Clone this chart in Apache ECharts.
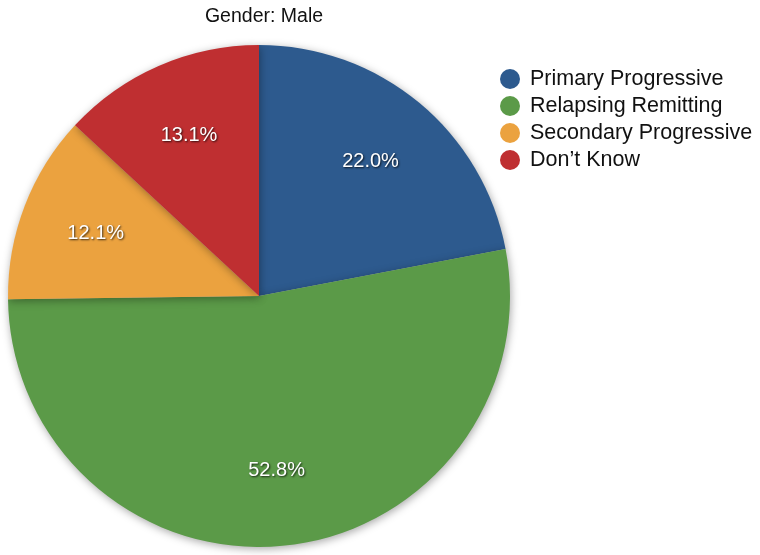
<!DOCTYPE html>
<html>
<head>
<meta charset="utf-8">
<script src="https://cdn.jsdelivr.net/npm/echarts@6/dist/echarts.min.js"></script>
<style>
html,body{margin:0;padding:0;background:#fff;}
#chart{width:760px;height:555px;}
</style>
</head>
<body>
<div id="chart"></div>
<script>
const categories = ["Primary Progressive", "Relapsing Remitting", "Secondary Progressive", "Don\u2019t Know"];
const values = [22.0, 52.8, 12.1, 13.1];
const colors = ["#2d5a8e", "#5b9a48", "#eba23f", "#bf2f31"];
const titleText = "Gender: Male";

const sliceData = categories.map((c, i) => ({ name: c, value: values[i], itemStyle: { color: colors[i] } }));
const labelData = categories.map((c, i) => ({ name: c, value: values[i] }));

const chart = echarts.init(document.getElementById('chart'), null, { renderer: 'canvas' });
chart.setOption({
  animation: false,
  title: {
    text: titleText,
    left: 259, top: 2, textAlign: 'center',
    textStyle: { fontFamily: 'Liberation Sans, Arial, sans-serif', fontSize: 19.5, fontWeight: 'normal', color: '#111' }
  },
  legend: {
    orient: 'vertical',
    left: 495, top: 63,
    icon: 'circle',
    itemWidth: 20, itemHeight: 20, itemGap: 5,
    data: categories,
    textStyle: { fontFamily: 'Liberation Sans, Arial, sans-serif', fontSize: 21.5, color: '#111', padding: [0, 0, 0, 5] }
  },
  series: [
    {
      type: 'pie',
      center: [259, 296],
      radius: [0, 251],
      startAngle: 90,
      clockwise: true,
      data: sliceData,
      label: { show: false },
      labelLine: { show: false },
      itemStyle: {
        borderWidth: 0,
        shadowBlur: 8, shadowColor: 'rgba(0,0,0,0.35)', shadowOffsetX: 1, shadowOffsetY: 2
      },
      emphasis: { disabled: true }
    },
    {
      type: 'pie',
      center: [259, 296],
      radius: [0, 344],
      startAngle: 90,
      clockwise: true,
      silent: true,
      legendHoverLink: false,
      data: labelData,
      itemStyle: { color: 'rgba(0,0,0,0)', opacity: 0 },
      label: {
        show: true,
        position: 'inside',
        opacity: 1,
        padding: [5, 0, 0, 0],
        formatter: p => p.value.toFixed(1) + '%',
        fontFamily: 'Liberation Sans, Arial, sans-serif',
        fontSize: 20,
        color: '#fff',
        textShadowColor: 'rgba(0,0,0,0.75)',
        textShadowBlur: 2,
        textShadowOffsetX: 1,
        textShadowOffsetY: 1
      },
      labelLine: { show: false },
      emphasis: { disabled: true }
    }
  ]
});
</script>
</body>
</html>
